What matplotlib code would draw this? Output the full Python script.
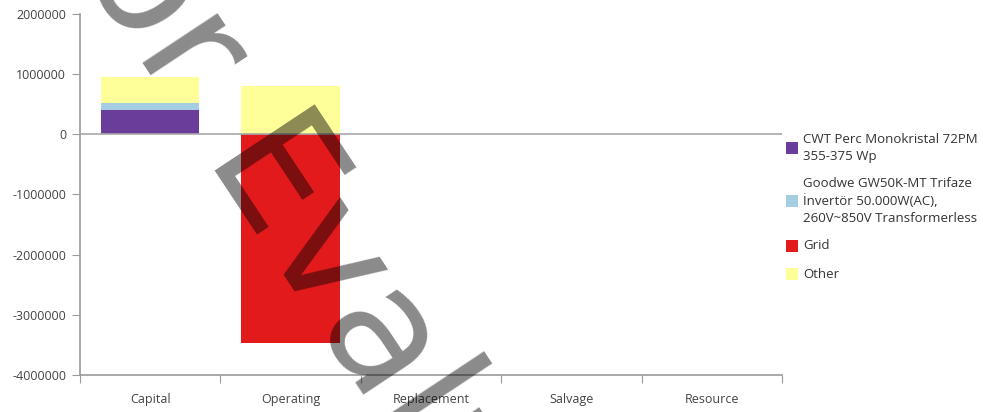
import numpy as np
import matplotlib
matplotlib.use("Agg")
import matplotlib.pyplot as plt
from matplotlib.patches import Rectangle
from matplotlib.ticker import FuncFormatter

categories = ["Capital", "Operating", "Replacement", "Salvage", "Resource"]
cwt = [400000, 0, 0, 0, 0]
goodwe = [120000, 0, 0, 0, 0]
grid = [0, -3470000, 0, 0, 0]
other = [430000, 810000, 0, 0, 0]

series_names = ["CWT Perc Monokristal 72PM\n355-375 Wp",
                "Goodwe GW50K-MT Trifaze\nİnvertör 50.000W(AC),\n260V~850V Transformerless",
                "Grid",
                "Other"]
series_colors = ["#6a3d9a", "#a6cee3", "#e31a1c", "#ffff99"]

plt.rcParams["font.family"] = ["Open Sans", "DejaVu Sans"]

fig = plt.figure(figsize=(9.83, 4.12), dpi=100)
ax = fig.add_axes([80 / 983, 1 - 375 / 412, 702 / 983, 361 / 412])

x = np.arange(len(categories))
pos_bottom = np.zeros(len(categories))
neg_bottom = np.zeros(len(categories))
for vals, col in zip([cwt, goodwe, grid, other], series_colors):
    vals = np.array(vals, dtype=float)
    bottom = np.where(vals >= 0, pos_bottom, neg_bottom)
    ax.bar(x, vals, 0.7, bottom=bottom, color=col, linewidth=0, zorder=2)
    pos_bottom += np.clip(vals, 0, None)
    neg_bottom += np.clip(vals, None, 0)

axis_col = "#9a9a9a"
ax.axhline(0, color="#a8a8a8", lw=1.2, zorder=3)
ax.set_xlim(-0.5, len(categories) - 0.5)
ax.set_ylim(-4000000, 2000000)
ax.set_yticks(np.arange(-4000000, 2000001, 1000000))
ax.yaxis.set_major_formatter(FuncFormatter(lambda v, p: str(int(v))))
ax.set_xticks(np.arange(-0.5, len(categories)))
ax.set_xticklabels([])
ax.set_xticks(x, minor=True)
ax.set_xticklabels(categories, minor=True)
ax.tick_params(axis="x", which="major", length=6, color=axis_col)
ax.tick_params(axis="x", which="minor", length=0, pad=13, labelsize=9, labelcolor="#444444")
ax.tick_params(axis="y", length=6, color=axis_col, labelsize=9, labelcolor="#444444", pad=4)
for s in ["top", "right"]:
    ax.spines[s].set_visible(False)
for s in ["left", "bottom"]:
    ax.spines[s].set_color(axis_col)
    ax.spines[s].set_linewidth(1.2)

# legend drawn by hand
W, H = 983, 412
legend_y = [148, 201, 246, 274]
for name, col, yc in zip(series_names, series_colors, legend_y):
    fig.patches.append(Rectangle((786 / W, 1 - (yc + 6) / H), 12 / W, 12 / H,
                                 transform=fig.transFigure, color=col, lw=0))
    fig.text(803 / W, 1 - yc / H, name, fontsize=9.5, color="#333333",
             va="center", ha="left", linespacing=1.35)

# evaluation watermark
wm = dict(fontsize=118, family="DejaVu Sans", color="black", alpha=0.46,
          rotation=-56.5, rotation_mode="anchor", va="baseline", zorder=10)
fig.text(198 / W, 1 - 170 / H, "Evaluation", ha="left", **wm)
fig.text(164 / W, 1 - 120 / H, "For", ha="right", **wm)

fig.savefig("out.png", dpi=100)
